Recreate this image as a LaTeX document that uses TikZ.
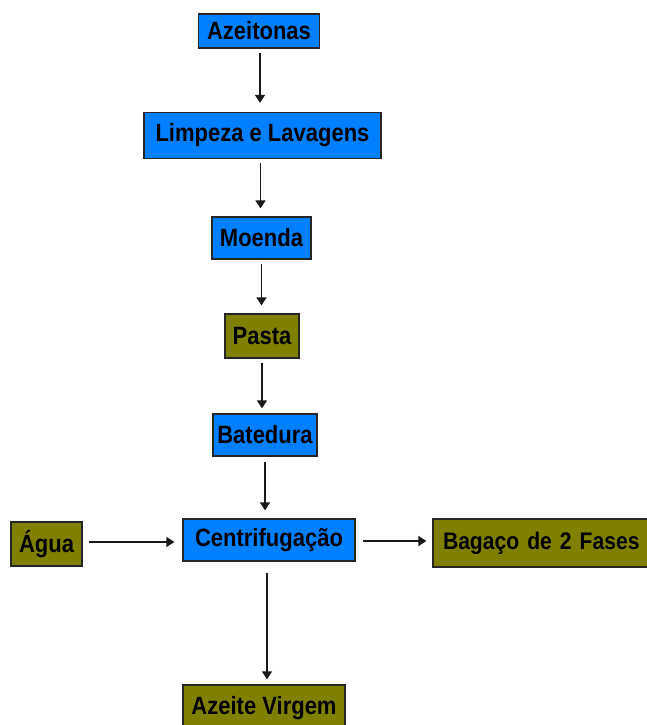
\documentclass[tikz,border=0pt]{standalone}
\usepackage{fontspec}
\newfontfamily\boxfont{Liberation Sans}[FakeStretch=0.88]
\usetikzlibrary{arrows.meta}
\definecolor{boxblue}{RGB}{0,128,255}
\definecolor{boxolive}{RGB}{128,128,0}
\tikzset{
  base/.style={draw=black!85, line width=1.3pt, inner sep=0pt, anchor=center,
    font=\boxfont\bfseries\fontsize{25}{25}\selectfont, text=black},
  bluebox/.style={base, fill=boxblue},
  olivebox/.style={base, fill=boxolive},
  arr/.style={draw=black!90, line width=1.5pt, -{Triangle[length=8pt,width=10pt]}}
}
\begin{document}
\begin{tikzpicture}[x=1pt,y=-1pt]
\useasboundingbox (0,0) rectangle (647,725);
\clip (0,0) rectangle (647,725);
\fill[white] (0,0) rectangle (647,725);
\node[bluebox, minimum width=121pt, minimum height=34pt] (az) at (259,31) {Azeitonas};
\node[bluebox, minimum width=237pt, minimum height=46pt] (li) at (262.5,135.5) {Limpeza e Lavagens};
\node[bluebox, minimum width=99pt, minimum height=42pt] (mo) at (261.5,238) {Moenda};
\node[olivebox, minimum width=74pt, minimum height=44pt] (pa) at (262,336) {Pasta};
\node[bluebox, minimum width=104pt, minimum height=42pt] (ba) at (265,435) {Batedura};
\node[olivebox, minimum width=71pt, minimum height=44pt] (ag) at (46.5,544) {Água};
\node[bluebox, minimum width=172pt, minimum height=42pt] (ce) at (269,540) {Centrifugação};
\node[olivebox, minimum width=224pt, minimum height=48pt, text width=210pt, align=left,
  font=\boxfont\bfseries\fontsize{24}{24}\selectfont] (bg) at (545,543) {\hspace*{3pt}\mbox{Bagaço de 2 Fases}};
\node[olivebox, minimum width=162pt, minimum height=46pt] (av) at (264,708) {Azeite Virgem};

\draw[arr, shorten <=4pt, shorten >=9pt] ([xshift=1pt]az.south) -- ([xshift=1pt]az.south |- li.north);
\draw[arr, shorten <=4pt, shorten >=8pt] ([xshift=-2pt]li.south) -- ([xshift=-2pt]li.south |- mo.north);
\draw[arr, shorten <=4pt, shorten >=8pt] (mo.south) -- (mo.south |- pa.north);
\draw[arr, shorten <=4pt, shorten >=5pt] (pa.south) -- (pa.south |- ba.north);
\draw[arr, shorten <=5pt, shorten >=8pt] (ba.south) -- (ba.south |- ce.north);
\draw[arr, shorten <=11pt, shorten >=5pt] ([xshift=-2pt]ce.south) -- ([xshift=-2pt]ce.south |- av.north);
\draw[arr, shorten <=6pt, shorten >=8pt] (ag.east |- 0,542) -- (ce.west |- 0,542);
\draw[arr, shorten <=7pt, shorten >=6pt] (ce.east |- 0,541) -- (bg.west |- 0,541);
\end{tikzpicture}
\end{document}
